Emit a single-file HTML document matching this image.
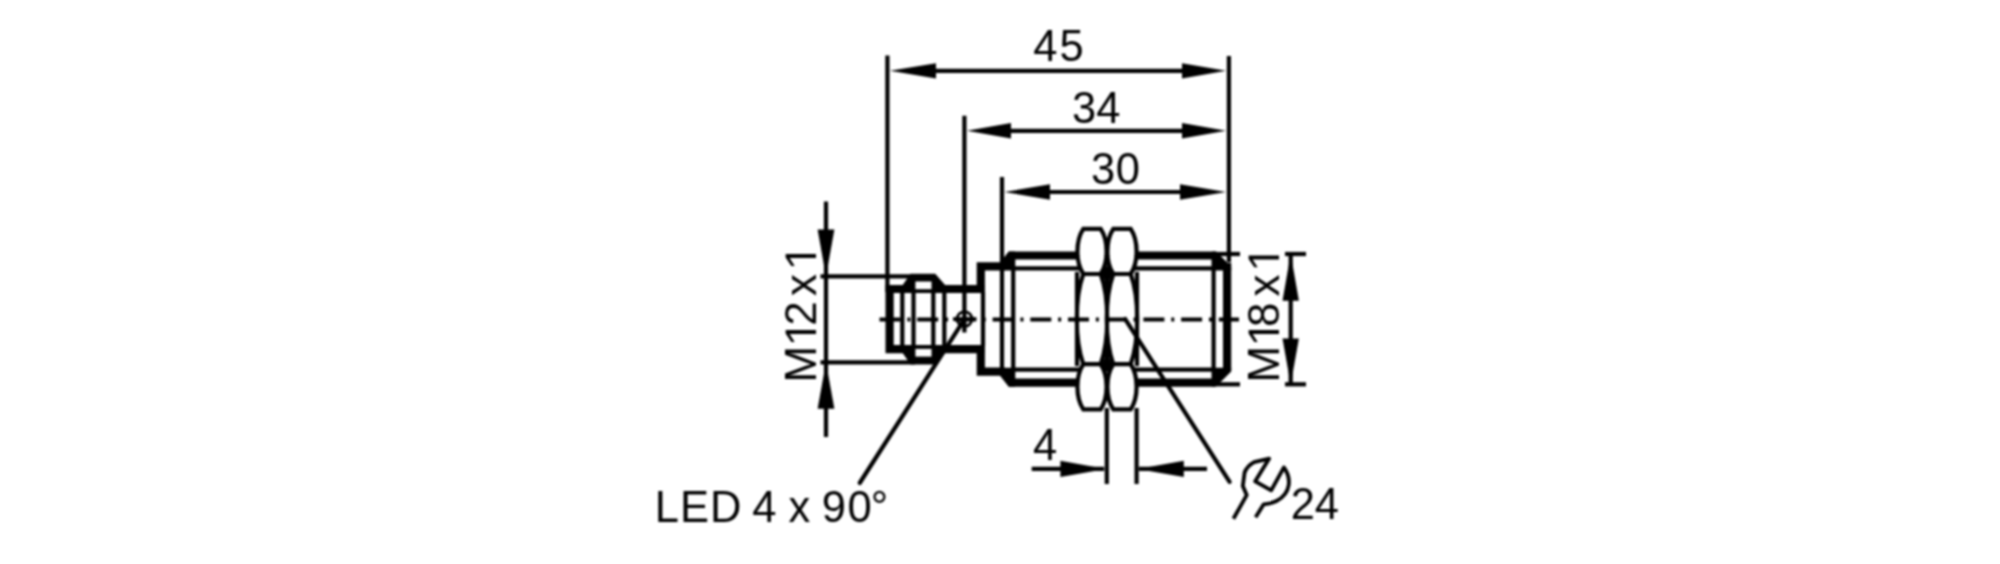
<!DOCTYPE html>
<html><head><meta charset="utf-8"><style>
html,body{margin:0;padding:0;background:#fff;width:2000px;height:564px;overflow:hidden}
svg{display:block;filter:blur(1px)}
text{font-family:"Liberation Sans",sans-serif;fill:#000}
</style></head><body>
<svg width="2000" height="564" viewBox="0 0 2000 564">
<rect width="2000" height="564" fill="#fff"/>
<g stroke="#000" fill="none">
<line x1="887.40" y1="55.50" x2="887.40" y2="292.00" stroke-width="4.2" />
<line x1="1228.90" y1="56.00" x2="1228.90" y2="262.00" stroke-width="4.2" />
<line x1="930.00" y1="70.80" x2="1190.00" y2="70.80" stroke-width="4.2" />
<polygon points="890.00,70.80 936.00,78.40 936.00,63.20" fill="#000" stroke="none"/>
<polygon points="1226.00,70.80 1182.00,63.20 1182.00,78.40" fill="#000" stroke="none"/>
<line x1="964.40" y1="115.70" x2="964.40" y2="332.60" stroke-width="4.2" />
<line x1="1005.00" y1="130.80" x2="1190.00" y2="130.80" stroke-width="4.2" />
<polygon points="967.00,130.80 1011.00,138.60 1011.00,123.00" fill="#000" stroke="none"/>
<polygon points="1226.00,130.80 1182.00,123.00 1182.00,138.60" fill="#000" stroke="none"/>
<line x1="1002.00" y1="177.00" x2="1002.00" y2="266.00" stroke-width="4.2" />
<line x1="1040.00" y1="192.00" x2="1190.00" y2="192.00" stroke-width="4.2" />
<polygon points="1004.50,192.00 1050.00,199.80 1050.00,184.20" fill="#000" stroke="none"/>
<polygon points="1226.00,192.00 1180.00,184.20 1180.00,199.80" fill="#000" stroke="none"/>
<line x1="826.00" y1="201.50" x2="826.00" y2="437.00" stroke-width="4.2" />
<polygon points="826.00,276.40 834.40,229.50 817.60,229.50" fill="#000" stroke="none"/>
<polygon points="826.00,362.40 817.60,408.80 834.40,408.80" fill="#000" stroke="none"/>
<line x1="820.50" y1="276.40" x2="915.00" y2="276.40" stroke-width="4.2" />
<line x1="820.50" y1="362.40" x2="915.00" y2="362.40" stroke-width="4.2" />
<line x1="1290.70" y1="253.70" x2="1290.70" y2="384.40" stroke-width="4.2" />
<polygon points="1290.70,253.70 1282.50,300.80 1298.90,300.80" fill="#000" stroke="none"/>
<polygon points="1290.70,384.40 1298.90,338.40 1282.50,338.40" fill="#000" stroke="none"/>
<line x1="1216.00" y1="254.00" x2="1240.00" y2="254.00" stroke-width="4.2" />
<line x1="1285.00" y1="254.00" x2="1306.00" y2="254.00" stroke-width="4.2" />
<line x1="1216.00" y1="384.30" x2="1240.00" y2="384.30" stroke-width="4.2" />
<line x1="1285.00" y1="384.30" x2="1306.00" y2="384.30" stroke-width="4.2" />
<line x1="1106.80" y1="408.00" x2="1106.80" y2="484.00" stroke-width="4.2" />
<line x1="1136.60" y1="408.00" x2="1136.60" y2="484.00" stroke-width="4.2" />
<line x1="1031.70" y1="468.90" x2="1104.00" y2="468.90" stroke-width="4.2" />
<polygon points="1106.00,468.90 1060.40,460.70 1060.40,477.10" fill="#000" stroke="none"/>
<line x1="1139.00" y1="468.90" x2="1207.00" y2="468.90" stroke-width="4.2" />
<polygon points="1137.50,468.90 1183.80,477.10 1183.80,460.70" fill="#000" stroke="none"/>
<polygon points="902.30,285.60 910.50,273.70 935.20,273.70 945.50,285.60" fill="#000" stroke="none"/>
<polygon points="902.30,352.50 910.50,364.40 935.20,364.40 945.50,352.50" fill="#000" stroke="none"/>
<path d="M984.5,289.0 H889.6 V349.10 H984.5" stroke-width="8.2" stroke-linejoin="miter"/>
<rect x="915.40" y="281.50" width="16.10" height="7.70" fill="#fff" stroke="none"/>
<rect x="915.40" y="348.90" width="16.10" height="7.70" fill="#fff" stroke="none"/>
<line x1="902.30" y1="292.00" x2="902.30" y2="346.00" stroke-width="4.2" />
<line x1="913.50" y1="292.00" x2="913.50" y2="346.00" stroke-width="4.2" />
<line x1="933.30" y1="292.00" x2="933.30" y2="346.00" stroke-width="4.2" />
<line x1="944.30" y1="292.00" x2="944.30" y2="346.00" stroke-width="4.2" />
<line x1="983.00" y1="292.00" x2="983.00" y2="346.00" stroke-width="4.2" />
<path d="M980.8,293 V266.4 H1002.5 L1010.8,255.5 H1214.2 L1227.1,268.4 V369.70 L1214.2,382.60 H1010.8 L1002.5,371.70 H980.8 V345.10" stroke-width="8.2" stroke-linejoin="miter" stroke-miterlimit="10"/>
<polygon points="1000.00,262.50 1009.00,251.40 1015.00,251.40 1015.00,270.40 1000.00,270.40" fill="#000" stroke="none"/>
<polygon points="1000.00,375.60 1009.00,386.70 1015.00,386.70 1015.00,367.70 1000.00,367.70" fill="#000" stroke="none"/>
<polygon points="1212.00,251.40 1216.00,251.40 1227.30,262.70 1231.20,262.70 1231.20,270.40 1212.00,270.40" fill="#000" stroke="none"/>
<polygon points="1212.00,386.70 1214.50,386.70 1231.20,370.00 1231.20,367.70 1212.00,367.70" fill="#000" stroke="none"/>
<line x1="1002.00" y1="262.00" x2="1002.00" y2="376.00" stroke-width="4.2" />
<line x1="1013.20" y1="256.00" x2="1013.20" y2="382.00" stroke-width="4.2" />
<line x1="1213.60" y1="256.00" x2="1213.60" y2="382.00" stroke-width="4.2" />
<line x1="1013.00" y1="268.40" x2="1214.00" y2="268.40" stroke-width="4.2" />
<line x1="1013.00" y1="369.70" x2="1214.00" y2="369.70" stroke-width="4.2" />
<path d="M1083.30,228.80 H1100.70 A17.2,30 0 0 1 1100.70,274.00 H1083.30 A17.2,30 0 0 1 1083.30,228.80 Z M1083.30,409.30 H1100.70 A17.2,30 0 0 0 1100.70,364.10 H1083.30 A17.2,30 0 0 0 1083.30,409.30 Z M1083.30,274.00 A19.2,60 0 0 0 1083.30,364.10 H1100.70 A19.2,60 0 0 0 1100.70,274.00 Z M1077.0,274.0 H1107.0 V364.10 H1077.0 Z M1113.30,228.80 H1130.70 A17.2,30 0 0 1 1130.70,274.00 H1113.30 A17.2,30 0 0 1 1113.30,228.80 Z M1113.30,409.30 H1130.70 A17.2,30 0 0 0 1130.70,364.10 H1113.30 A17.2,30 0 0 0 1113.30,409.30 Z M1113.30,274.00 A19.2,60 0 0 0 1113.30,364.10 H1130.70 A19.2,60 0 0 0 1130.70,274.00 Z M1107.0,274.0 H1137.0 V364.10 H1107.0 Z" fill="#fff" stroke="none"/>
<path d="M1083.30,228.80 H1100.70 A17.2,30 0 0 1 1100.70,274.00 H1083.30 A17.2,30 0 0 1 1083.30,228.80 Z M1083.30,409.30 H1100.70 A17.2,30 0 0 0 1100.70,364.10 H1083.30 A17.2,30 0 0 0 1083.30,409.30 Z M1083.30,274.00 A19.2,60 0 0 0 1083.30,364.10 H1100.70 A19.2,60 0 0 0 1100.70,274.00 Z M1077.00,272.00 V366.10 M1107.00,272.00 V366.10 M1113.30,228.80 H1130.70 A17.2,30 0 0 1 1130.70,274.00 H1113.30 A17.2,30 0 0 1 1113.30,228.80 Z M1113.30,409.30 H1130.70 A17.2,30 0 0 0 1130.70,364.10 H1113.30 A17.2,30 0 0 0 1113.30,409.30 Z M1113.30,274.00 A19.2,60 0 0 0 1113.30,364.10 H1130.70 A19.2,60 0 0 0 1130.70,274.00 Z M1107.00,272.00 V366.10 M1137.00,272.00 V366.10" fill="none" stroke-width="4.2"/>
<ellipse cx="1107" cy="274.00" rx="4.2" ry="7" fill="#000" stroke="none"/>
<ellipse cx="1107" cy="364.10" rx="4.2" ry="7" fill="#000" stroke="none"/>
<line x1="879.50" y1="319.50" x2="1239.00" y2="319.50" stroke-width="4.2" stroke-dasharray="21 6.85 3 6.85"/>
<circle cx="964.5" cy="319.05" r="7.4" fill="none" stroke-width="2.7"/>
<line x1="953.00" y1="319.05" x2="976.50" y2="319.05" stroke-width="3.6" />
<line x1="964.50" y1="319.05" x2="859.70" y2="483.00" stroke-width="4.2" stroke-linecap="round"/>
<line x1="1125.20" y1="319.05" x2="1229.60" y2="481.90" stroke-width="4.2" stroke-linecap="round"/>
<path d="M1233.4,518.8 L1246.7,495.1 L1242.8,486 L1244.6,472.5 Q1247,466 1254.1,462.1 L1269.2,458.6 L1255.2,481.3 L1271.2,490.3 L1283.9,467.4 C1291.5,478 1291.5,493 1276.5,501 Q1272,503.5 1263.7,504.3 L1255.6,517.2" fill="none" stroke-width="3.8" stroke-linejoin="round" stroke-linecap="butt"/>
<g stroke="none"><g transform="translate(0,61.0) scale(1,1.035)"><text x="1033.3" y="0" font-size="43.5">4</text><text x="1059.5" y="0" font-size="43.5">5</text></g><g transform="translate(0,122.8) scale(1,1.035)"><text x="1072.1" y="0" font-size="43.5">3</text><text x="1096.3" y="0" font-size="43.5">4</text></g><g transform="translate(0,184.0) scale(1,1.035)"><text x="1091.0" y="0" font-size="43.5">3</text><text x="1115.8" y="0" font-size="43.5">0</text></g><g transform="translate(0,460.3) scale(1,1.0)"><text x="1032.9" y="0" font-size="43.5">4</text></g><g transform="translate(0,519.2) scale(1,1.04)"><text x="1290.8" y="0" font-size="43.5">2</text><text x="1314.8" y="0" font-size="43.5">4</text></g><g transform="translate(0,522.0) scale(1,1.0)"><text x="654.7" y="0" font-size="43.5">L</text><text x="680.1" y="0" font-size="43.5">E</text><text x="710" y="0" font-size="43.5">D</text><text x="752.2" y="0" font-size="43.5">4</text><text x="788.5" y="0" font-size="43.5">x</text><text x="821.8" y="0" font-size="43.5">9</text><text x="847.6" y="0" font-size="43.5">0</text><text x="870.8" y="0" font-size="43.5">°</text></g><g transform="translate(816,378) rotate(-90)" stroke="none" fill="#000"><text x="-4.6" y="0" font-size="44">M</text><path transform="translate(33.00,0) scale(0.44)" d="M34,0 V-69 H26 L7,-56 V-48.5 L25,-60 V0 Z"/><text x="52.3" y="0" font-size="44">2</text><text x="82.1" y="0" font-size="44">x</text><path transform="translate(109.00,0) scale(0.44)" d="M34,0 V-69 H26 L7,-56 V-48.5 L25,-60 V0 Z"/></g><g transform="translate(1279,378) rotate(-90)" stroke="none" fill="#000"><text x="-4.6" y="0" font-size="44">M</text><path transform="translate(33.00,0) scale(0.44)" d="M34,0 V-69 H26 L7,-56 V-48.5 L25,-60 V0 Z"/><text x="51.0" y="0" font-size="44">8</text><text x="81.6" y="0" font-size="44">x</text><path transform="translate(107.60,0) scale(0.44)" d="M34,0 V-69 H26 L7,-56 V-48.5 L25,-60 V0 Z"/></g></g>
</g>
</svg></body></html>
